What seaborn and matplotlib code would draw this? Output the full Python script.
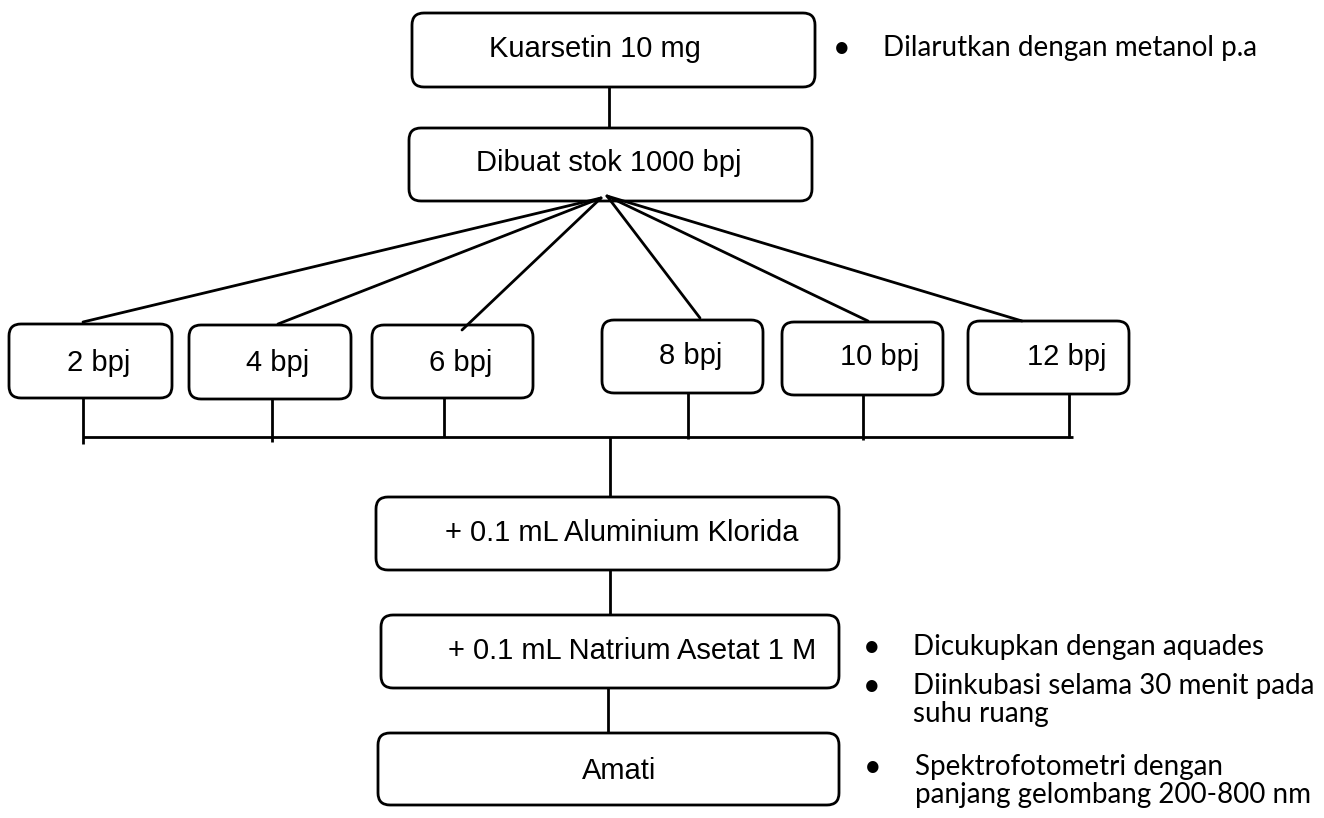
import matplotlib
matplotlib.use('Agg')
import matplotlib.pyplot as plt
from matplotlib.patches import FancyBboxPatch
import seaborn as sns

# Labels of the flow chart
main_steps = ['Kuarsetin 10 mg', 'Dibuat stok 1000 bpj',
              '+ 0.1 mL Aluminium Klorida', '+ 0.1 mL Natrium Asetat 1 M', 'Amati']
concentrations = [2, 4, 6, 8, 10, 12]
conc_labels = [f'{c} bpj' for c in concentrations]
notes_stock = ['Dilarutkan dengan metanol p.a']
notes_natrium = ['Dicukupkan dengan aquades', 'Diinkubasi selama 30 menit pada\nsuhu ruang']
notes_amati = ['Spektrofotometri dengan\npanjang gelombang 200-800 nm']

# Layout in pixel units (x0, y0, x1, y1) and text centres
main_boxes = [(412, 13, 815, 87), (409, 128, 812, 201), (376, 497, 839, 570),
              (381, 615, 839, 688), (378, 733, 839, 805)]
main_text_xy = [(595, 49), (609, 163), (622, 533), (632, 651), (619, 771)]
conc_boxes = [(9, 324, 172, 398), (189, 325, 351, 399), (372, 325, 533, 398),
              (602, 320, 763, 393), (782, 322, 943, 395), (968, 321, 1129, 394)]
conc_text_xy = [(99, 363), (278, 363), (461, 363), (691, 356), (880, 357), (1067, 357)]
fan_ends = [(83, 322), (278, 324), (462, 330), (700, 318), (868, 321), (1022, 321)]
drop_x = [83, 272, 444, 688, 863, 1069]
drop_bottom = [444, 442, 437, 439, 440, 438]
BUS_Y = 437

sns.set_theme(style='white')
plt.rcParams['font.family'] = ['Liberation Sans', 'DejaVu Sans']
NOTE_FONT = ['Lato', 'DejaVu Sans']

fig = plt.figure(figsize=(13.24, 8.18), dpi=100)
ax = fig.add_axes([0, 0, 1, 1])
ax.set_xlim(0, 1324)
ax.set_ylim(818, 0)
ax.axis('off')

LW = 2.0
BOX_FS = 21


def draw_box(ax, box, label, txy):
    x0, y0, x1, y1 = box
    p = FancyBboxPatch((x0, y0), x1 - x0, y1 - y0,
                       boxstyle='round,pad=0,rounding_size=12',
                       fc='white', ec='black', lw=LW, zorder=2)
    ax.add_patch(p)
    ax.text(txy[0], txy[1], label, ha='center', va='center',
            fontsize=BOX_FS, color='black', zorder=3)


def line(ax, xs, ys):
    ax.plot(xs, ys, color='black', lw=LW, solid_capstyle='butt', zorder=1)


for box, lab, txy in zip(main_boxes, main_steps, main_text_xy):
    draw_box(ax, box, lab, txy)
for box, lab, txy in zip(conc_boxes, conc_labels, conc_text_xy):
    draw_box(ax, box, lab, txy)

# connectors
line(ax, [609, 609], [81, 128])
for i, (ex, ey) in enumerate(fan_ends):
    apex = (601, 198) if i < 3 else (607, 196)
    ax.plot([apex[0], ex], [apex[1], ey], color='black', lw=LW, zorder=4)
for i, x in enumerate(drop_x):
    line(ax, [x, x], [conc_boxes[i][3] - 4, drop_bottom[i]])
line(ax, [83, 1073], [BUS_Y, BUS_Y])
line(ax, [610, 610], [BUS_Y, 497])
line(ax, [610, 610], [567, 615])
line(ax, [608, 608], [683, 733])

# side notes
NOTE_FS = 20


def note_text(ax, bx, by, tx, text):
    ax.text(bx, by, '\u2022', ha='center', va='center', fontsize=NOTE_FS + 2,
            family=NOTE_FONT, color='black')
    for k, t in enumerate(text.split('\n')):
        ax.text(tx, by + k * 28, t, ha='left', va='center', fontsize=NOTE_FS,
                family=NOTE_FONT, color='black')


note_text(ax, 842, 48, 883, notes_stock[0])
note_text(ax, 872, 647, 913, notes_natrium[0])
note_text(ax, 872, 686, 913, notes_natrium[1])
note_text(ax, 873, 767, 915, notes_amati[0])

fig.savefig('out.png', dpi=100, facecolor='white')
plt.close(fig)
